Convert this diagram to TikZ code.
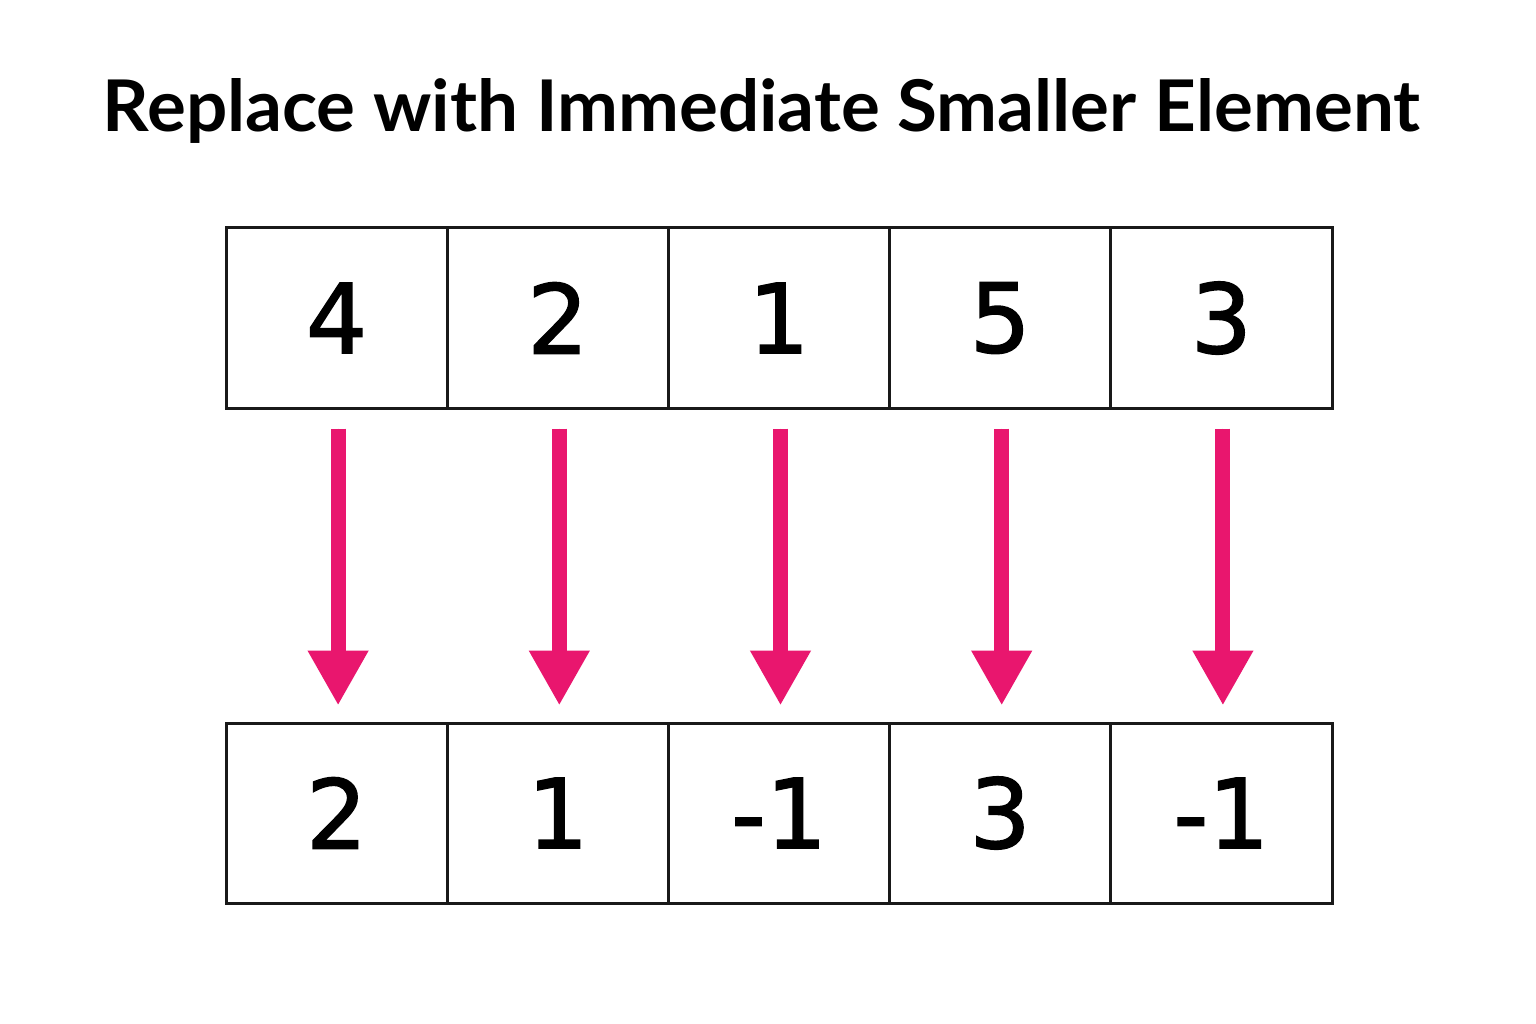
\documentclass[tikz,border=0pt]{standalone}
\usepackage{fontspec}
\usetikzlibrary{arrows.meta}
\newfontfamily\titlefont{Lato}
\newfontfamily\digitfont[FakeBold=1.6]{DejaVu Sans}
\definecolor{arrowpink}{RGB}{233,22,110}
\definecolor{boxline}{RGB}{25,25,25}
\begin{document}
\begin{tikzpicture}[x=1pt,y=-1pt,
  cell/.style={draw=boxline,line width=3pt,rectangle,minimum width=221.2pt,minimum height=180pt,inner sep=0pt,
    font=\digitfont\fontsize{96}{96}\selectfont},
  downarrow/.style={draw=arrowpink,line width=15pt,-{Triangle[width=57pt,length=55pt]},fill=arrowpink}]
\useasboundingbox (0,0) rectangle (1536,1024);
\fill[white] (0,0) rectangle (1536,1024);
\node[anchor=base,inner sep=0pt] (title) at (761.5,131.7)
  {\resizebox{1317pt}{53pt}{\titlefont\bfseries Replace with Immediate Smaller Element}};
\foreach \i/\v/\w in {1/4/2,2/2/1,3/1/-1,4/5/3,5/3/-1}{
  \node[cell] (t\i) at ({226+221.2*(\i-0.5)},318) {\v};
  \node[cell] (b\i) at ({226+221.2*(\i-0.5)},813) {\w};
}
\foreach \i in {1,...,5}{
  \draw[downarrow] ([xshift=1.5pt,yshift=-19pt]t\i.south) -- ([xshift=1.5pt,yshift=16pt]b\i.north);
}
\end{tikzpicture}
\end{document}
